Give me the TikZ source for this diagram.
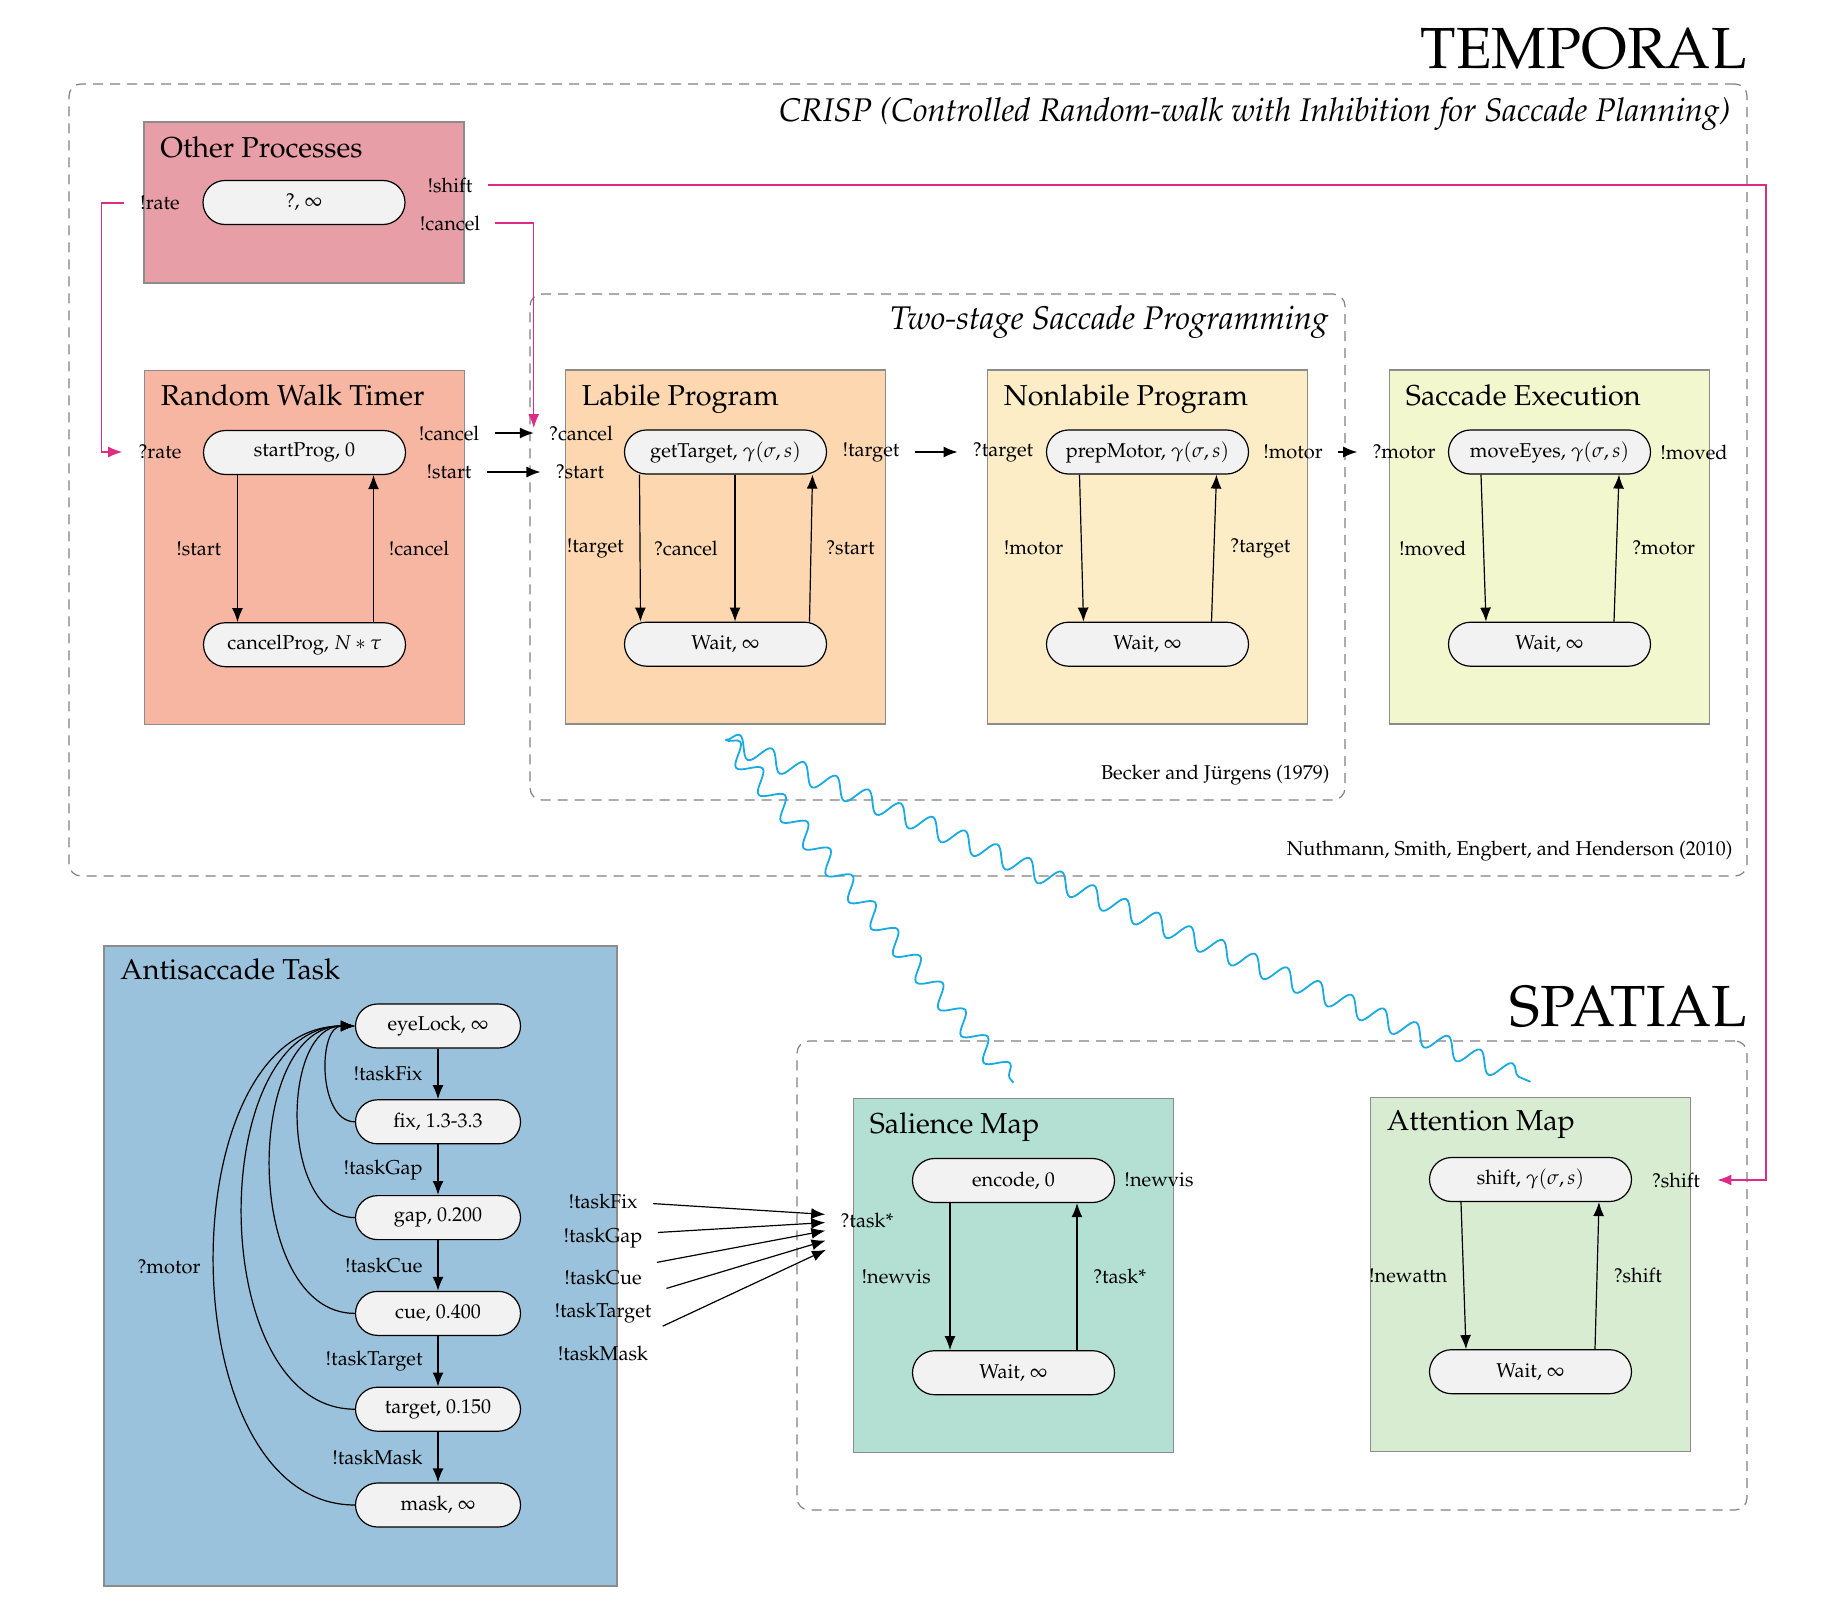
\documentclass[tikz,border=0pt]{standalone}
\usepackage[T1]{fontenc}
\usepackage{mathpazo}
\usepackage{tikz}
\usetikzlibrary{arrows.meta, positioning, decorations.pathmorphing, calc}
\definecolor{otherproc}{RGB}{231,158,166}
\definecolor{rwtimer}{RGB}{247,182,161}
\definecolor{labile}{RGB}{252,215,176}
\definecolor{nonlabile}{RGB}{253,237,199}
\definecolor{saccexec}{RGB}{242,247,205}
\definecolor{antisacc}{RGB}{155,194,220}
\definecolor{salience}{RGB}{179,224,211}
\definecolor{attention}{RGB}{216,236,210}
\definecolor{crispmag}{RGB}{221,44,134}
\definecolor{wavecyan}{RGB}{24,170,226}

\begin{document}
\begin{tikzpicture}[x=0.5pt, y=-0.5pt, >={Latex[length=7pt,width=5.5pt]},
      grp/.style={draw=black!50, line width=0.6pt, dash pattern=on 5pt off 3.5pt,
                  rounded corners=6pt, inner sep=0pt},
      proc/.style={draw=black!45, line width=0.7pt, minimum width=160pt,
                   minimum height=177pt, inner sep=0pt},
      ttl/.style={anchor=base west, font=\fontsize{14.4}{17}\selectfont},
      st/.style={draw, semithick, fill=black!5, rounded corners=11pt,
                 minimum width=101pt, minimum height=22pt, inner sep=0pt},
      tk/.style={st, minimum width=82.5pt},
      port/.style={inner sep=3pt},
      big/.style={anchor=base east, font=\fontsize{29}{34}\selectfont},
      gttl/.style={anchor=base east, font=\fontsize{16.4}{20}\selectfont\itshape},
      cite/.style={anchor=east},
      link/.style={->, semithick, shorten <=4.5pt, shorten >=4.5pt},
      mag/.style={->, draw=crispmag, semithick},
      wavy/.style={draw=wavecyan, line width=0.9pt, decorate,
                   decoration={snake, segment length=17.5pt, amplitude=5pt}}]

    \useasboundingbox (0,0) rectangle (1826,1616);

    \node[grp, minimum width=839pt, minimum height=396pt] (CRISP) at (908,480) {};
    \node[grp, minimum width=407.5pt, minimum height=253pt] (TS) at (937.5,547) {};
    \node[grp, minimum width=475pt, minimum height=234.5pt] (SP) at (1272,1275.5) {};

    \node[big] (TEMP) at ([shift={(3pt,7.5pt)}]CRISP.north east) {TEMPORAL};
    \node[big] (SPAT) at ([shift={(3pt,7pt)}]SP.north east) {SPATIAL};
    \node[gttl] (CRISPttl) at ([shift={(-5pt,-19pt)}]CRISP.north east)
      {CRISP (Controlled Random-walk with Inhibition for Saccade Planning)};
    \node[gttl] (TSttl) at ([shift={(-5pt,-18pt)}]TS.north east) {Two-stage Saccade Programming};
    \node[cite] (BJ) at ([shift={(-4.5pt,13pt)}]TS.south east) {Becker and J\"urgens (1979)};
    \node[cite] (NSEH) at ([shift={(-4pt,13pt)}]CRISP.south east)
      {Nuthmann, Smith, Engbert, and Henderson (2010)};

    \node[proc, fill=otherproc, minimum height=80.5pt] (OP) at (304,202.5) {};
    \node[proc, fill=rwtimer] (RW) at (304.5,547.5) {};
    \node[proc, fill=labile] (LP) at (725.5,547) {};
    \node[proc, fill=nonlabile] (NL) at (1147.5,547) {};
    \node[proc, fill=saccexec] (SE) at (1549.5,547) {};
    \node[proc, fill=antisacc, minimum width=256.5pt, minimum height=320pt] (AT) at (360.5,1266) {};
    \node[proc, fill=salience] (SM) at (1013.5,1275.5) {};
    \node[proc, fill=attention] (AM) at (1530.5,1274.5) {};

    \node[ttl] (OPt) at ([shift={(5pt,-18pt)}]OP.north west) {Other Processes};
    \node[ttl] (RWt) at ([shift={(5pt,-18pt)}]RW.north west) {Random Walk Timer};
    \node[ttl] (LPt) at ([shift={(5pt,-18pt)}]LP.north west) {Labile Program};
    \node[ttl] (NLt) at ([shift={(5pt,-18pt)}]NL.north west) {Nonlabile Program};
    \node[ttl] (SEt) at ([shift={(5pt,-18pt)}]SE.north west) {Saccade Execution};
    \node[ttl] (ATt) at ([shift={(5pt,-17pt)}]AT.north west) {Antisaccade Task};
    \node[ttl] (SMt) at ([shift={(5pt,-18pt)}]SM.north west) {Salience Map};
    \node[ttl] (AMt) at ([shift={(5pt,-17pt)}]AM.north west) {Attention Map};

    \node[st] (OPq) at (OP.center) {?, $\infty$};
    \node[st] (RWs) at ([yshift=47.5pt]RW.center) {startProg, 0};
    \node[st, below=73.5pt of RWs] (RWc) {cancelProg, $N*\tau$};
    \node[st] (LPg) at ([yshift=47.5pt]LP.center) {getTarget, $\gamma(\sigma,s)$};
    \node[st, below=73.5pt of LPg] (LPw) {Wait, $\infty$};
    \node[st] (NLp) at ([yshift=47.5pt]NL.center) {prepMotor, $\gamma(\sigma,s)$};
    \node[st, below=73.5pt of NLp] (NLw) {Wait, $\infty$};
    \node[st] (SEm) at ([yshift=47.5pt]SE.center) {moveEyes, $\gamma(\sigma,s)$};
    \node[st, below=73.5pt of SEm] (SEw) {Wait, $\infty$};
    \node[st] (SMe) at ([yshift=47.5pt]SM.center) {encode, 0};
    \node[st, below=73.5pt of SMe] (SMw) {Wait, $\infty$};
    \node[st] (AMs) at ([yshift=47.5pt]AM.center) {shift, $\gamma(\sigma,s)$};
    \node[st, below=73.5pt of AMs] (AMw) {Wait, $\infty$};

    \node[tk] (eyeLock) at (438,1026) {eyeLock, $\infty$};
    \node[tk, below=25.3pt of eyeLock] (fix) {fix, 1.3-3.3};
    \node[tk, below=25.3pt of fix] (gap) {gap, 0.200};
    \node[tk, below=25.3pt of gap] (cue) {cue, 0.400};
    \node[tk, below=25.3pt of cue] (target) {target, 0.150};
    \node[tk, below=25.3pt of target] (mask) {mask, $\infty$};
    \node (ATmotor) at (169,1267) {?motor};

    \node[port] (OPrate) at (160,203) {!rate};
    \node[port] (OPshift) at (450,185) {!shift};
    \node[port] (OPcancel) at (450,223) {!cancel};
    \node[port] (RWrate) at (160,452) {?rate};
    \node[port] (RWcancel) at (449,433) {!cancel};
    \node[port] (RWstart) at (449,472) {!start};
    \node[port] (LPcancel) at (581,433) {?cancel};
    \node[port] (LPstart) at (580,472) {?start};
    \node[port] (LPtarget) at (871,452) {!target};
    \node[port] (NLtarget) at (1003,452) {?target};
    \node[port] (NLmotor) at (1293,452) {!motor};
    \node[port] (SEmotor) at (1404,452) {?motor};
    \node[port] (SEmoved) at (1694,452) {!moved};
    \node[port] (SMnewvis) at (1159,1180) {!newvis};
    \node[port] (SMtask) at (867,1220) {?task*};
    \node[port] (AMshift) at (1676,1180) {?shift};
    \node[port] (ATfix) at (603,1201) {!taskFix};
    \node[port] (ATgap) at (603,1238) {!taskGap};
    \node[port] (ATcue) at (603,1277) {!taskCue};
    \node[port] (ATtarget) at (603,1313) {!taskTarget};
    \node[port] (ATmask) at (603,1353) {!taskMask};

    \draw[->, semithick] ([xshift=-33.5pt]RWs.south) -- ([xshift=-33.5pt]RWc.north)
      node[midway, left=4.5pt] {!start};
    \draw[->, semithick] ([xshift=34.5pt]RWc.north) -- ([xshift=34.5pt]RWs.south)
      node[midway, right=4pt] {!cancel};

    \draw[->, semithick] ([xshift=-43pt]LPg.south) -- ([xshift=-42.5pt]LPw.north)
      node[midway, left=4.5pt] {!target};
    \draw[->, semithick] ([xshift=4.75pt]LPg.south) -- ([xshift=4.75pt]LPw.north)
      node[midway, left=5pt] {?cancel};
    \draw[->, semithick] ([xshift=42pt]LPw.north) -- ([xshift=43.5pt]LPg.south)
      node[midway, right=4pt] {?start};

    \draw[->, semithick] ([xshift=-34pt]NLp.south) -- ([xshift=-32pt]NLw.north)
      node[midway, left=5.5pt] {!motor};
    \draw[->, semithick] ([xshift=32pt]NLw.north) -- ([xshift=34.5pt]NLp.south)
      node[midway, right=4.5pt] {?target};

    \draw[->, semithick] ([xshift=-34.25pt]SEm.south) -- ([xshift=-31.75pt]SEw.north)
      node[midway, left=5pt] {!moved};
    \draw[->, semithick] ([xshift=32.25pt]SEw.north) -- ([xshift=34.75pt]SEm.south)
      node[midway, right=4.25pt] {?motor};

    \draw[->, semithick] ([xshift=-31.75pt]SMe.south) -- ([xshift=-31.75pt]SMw.north)
      node[midway, left=6pt] {!newvis};
    \draw[->, semithick] ([xshift=31.75pt]SMw.north) -- ([xshift=31.75pt]SMe.south)
      node[midway, right=4.5pt] {?task*};

    \draw[->, semithick] ([xshift=-34.75pt]AMs.south) -- ([xshift=-32.25pt]AMw.north)
      node[midway, left=4.5pt] {!newattn};
    \draw[->, semithick] ([xshift=32.25pt]AMw.north) -- ([xshift=34.25pt]AMs.south)
      node[midway, right=4.75pt] {?shift};

    \draw[->, thick] (eyeLock) -- (fix) node[midway, left=4pt] {!taskFix};
    \draw[->, thick] (fix) -- (gap) node[midway, left=4pt] {!taskGap};
    \draw[->, thick] (gap) -- (cue) node[midway, left=4pt] {!taskCue};
    \draw[->, thick] (cue) -- (target) node[midway, left=4pt] {!taskTarget};
    \draw[->, thick] (target) -- (mask) node[midway, left=4pt] {!taskMask};
    \foreach \n in {fix, gap, cue, target, mask}
      \draw[->, semithick] (\n.west) to[out=180, in=180] (eyeLock.west);

    \draw[link] (RWcancel) -- (LPcancel);
    \draw[link] (RWstart) -- (LPstart);
    \draw[link] (LPtarget) -- (NLtarget);
    \draw[link] (NLmotor) -- (SEmotor);
    \foreach \n/\a/\b in {ATfix/-1pt/2.5pt, ATgap/2.5pt/-1pt, ATcue/6.5pt/-4.5pt,
                          ATtarget/11pt/-9pt, ATmask/11.5pt/-13pt}
      \draw[link] ([yshift=\a]\n.east) -- ([yshift=\b]SMtask.west);

    \coordinate (MAGcol) at (1766,185);
    \draw[mag, shorten <=5pt, shorten >=5pt] (OPrate.west) -- ++(-16pt,0) |- (RWrate.west);
    \draw[mag, shorten <=4pt] (OPcancel.east) -| ([shift={(-4.5pt,2.5pt)}]LPcancel.west);
    \draw[mag, shorten <=4.5pt, shorten >=5.5pt] (OPshift.east) -- (MAGcol)
      |- (AMshift.east);

    \coordinate (Wsrc) at ([yshift=-7.5pt]LP.south);
    \coordinate (Wsm) at ([yshift=7.5pt]SM.north);
    \coordinate (Wam) at ([yshift=7.5pt]AM.north);
    \draw[wavy] (Wsrc) -- (Wsm);
    \draw[wavy] (Wsrc) -- (Wam);
  \end{tikzpicture}
\end{document}
